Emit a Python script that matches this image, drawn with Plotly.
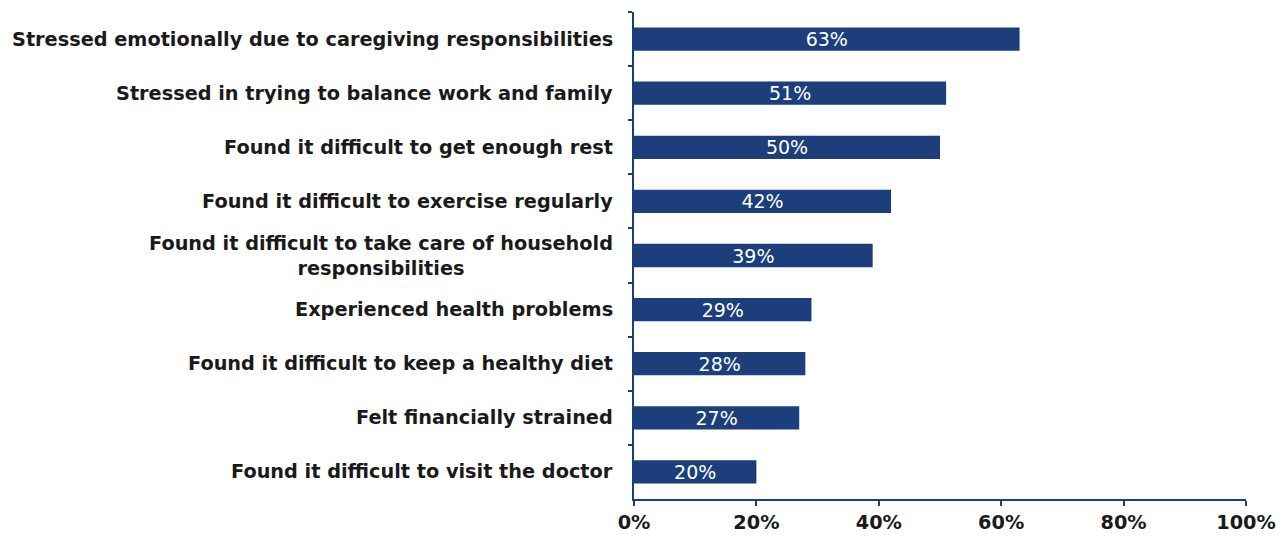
import plotly.graph_objects as go

# Share of caregivers reporting each effect (percent)
categories = [
    "Stressed emotionally due to caregiving responsibilities",
    "Stressed in trying to balance work and family",
    "Found it difficult to get enough rest",
    "Found it difficult to exercise regularly",
    "Found it difficult to take care of household<br>responsibilities",
    "Experienced health problems",
    "Found it difficult to keep a healthy diet",
    "Felt financially strained",
    "Found it difficult to visit the doctor",
]
values = [63, 51, 50, 42, 39, 29, 28, 27, 20]
x_ticks = [0, 20, 40, 60, 80, 100]
x_tick_labels = ["0%", "20%", "40%", "60%", "80%", "100%"]

navy = "#1c3f7b"
ink = "#1a1a1a"
label_font = "DejaVu Sans, Verdana, sans-serif"

fig = go.Figure(
    go.Bar(
        x=values,
        y=categories,
        orientation="h",
        marker=dict(color=navy, line=dict(width=0)),
        width=0.43,
        text=[f"{v}%" for v in values],
        textposition="inside",
        insidetextanchor="middle",
        constraintext="none",
        textangle=0,
        textfont=dict(family=label_font, size=19, color="white"),
        hoverinfo="skip",
    )
)

# Category labels, right-aligned to the axis with centred wrapped lines
for cat in categories:
    fig.add_annotation(
        x=0, xref="paper", y=cat, yref="y",
        text=f"<b>{cat}</b>",
        showarrow=False,
        xanchor="right", yanchor="middle",
        align="center",
        xshift=-19,
        font=dict(family=label_font, size=19.3, color=ink),
    )

fig.update_layout(
    width=1288,
    height=546,
    margin=dict(l=634, r=38, t=12, b=38),
    paper_bgcolor="white",
    plot_bgcolor="white",
    showlegend=False,
)

fig.update_xaxes(
    range=[0, 100],
    tickvals=x_ticks,
    ticktext=[f"<b>{t}</b>" for t in x_tick_labels],
    tickfont=dict(family=label_font, size=19.3, color=ink),
    showgrid=False,
    zeroline=False,
    showline=True,
    linecolor=navy,
    linewidth=2,
    ticks="outside",
    ticklen=5,
    tickwidth=2,
    tickcolor=navy,
    fixedrange=True,
)

fig.update_yaxes(
    autorange="reversed",
    categoryorder="array",
    categoryarray=categories,
    showticklabels=False,
    showgrid=False,
    zeroline=False,
    showline=True,
    linecolor=navy,
    linewidth=2,
    ticks="outside",
    tickson="boundaries",
    ticklen=4,
    tickwidth=2,
    tickcolor=navy,
    fixedrange=True,
)

fig.write_html("out.html")
